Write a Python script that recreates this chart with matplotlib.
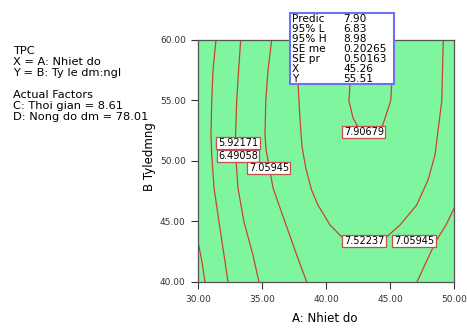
import matplotlib.pyplot as plt
from matplotlib.patches import Rectangle

# contour lines (A: Nhiet do, B: Ty le dm:ngl)
c0_x = [30.00, 30.29, 30.52]
c0_y = [43.22, 41.65, 40.00]

c1_x = [31.38, 31.15, 31.05, 30.99, 31.05, 31.23, 31.62, 32.01, 32.32]
c1_y = [60.00, 57.52, 54.96, 52.15, 50.50, 47.77, 44.96, 42.23, 40.00]

c2_x = [33.31, 33.10, 33.00, 32.91, 32.92, 33.10, 33.57, 34.27, 34.74]
c2_y = [60.00, 56.69, 54.96, 52.15, 50.50, 47.77, 44.96, 42.23, 40.00]

c3_x = [35.73, 35.45, 35.27, 35.21, 35.30, 35.84, 36.77, 37.69, 38.47]
c3_y = [60.00, 57.52, 54.96, 52.15, 50.91, 47.77, 44.96, 42.23, 40.00]

c3r_x = [50.00, 49.35, 48.57, 47.08]
c3r_y = [46.12, 44.71, 43.39, 40.00]

c4_x = [37.95, 37.79, 37.95, 38.10, 38.40, 38.85, 39.35, 40.29, 41.20, 42.95,
        44.72, 45.76, 47.06, 47.95, 48.49, 49.02, 49.14]
c4_y = [60.00, 56.45, 53.39, 51.20, 49.40, 47.60, 46.36, 44.71, 43.74, 43.22,
        43.74, 44.71, 46.36, 48.43, 50.50, 54.96, 60.00]

c5_x = [42.24, 41.85, 41.77, 42.09, 42.48, 43.10, 43.80, 44.33, 44.59,
        45.03, 45.11, 44.59, 43.42, 42.24]
c5_y = [58.18, 56.28, 54.96, 53.55, 52.81, 51.98, 52.31, 52.73, 53.55,
        54.96, 56.28, 58.18, 58.76, 58.18]

lbl_text = ['5.92171', '6.49058', '7.05945', '7.90679', '7.52237', '7.05945']
lbl_x = [33.10, 33.10, 35.52, 42.94, 42.94, 46.85]
lbl_y = [51.49, 50.41, 49.42, 52.40, 43.39, 43.39]

info_lines = ['TPC', 'X = A: Nhiet do', 'Y = B: Ty le dm:ngl', '',
              'Actual Factors', 'C: Thoi gian = 8.61', 'D: Nong do dm = 78.01']

box_names = ['Predic', '95% L', '95% H', 'SE me', 'SE pr', 'X', 'Y']
box_values = ['7.90', '6.83', '8.98', '0.20265', '0.50163', '45.26', '55.51']

W, H = 467, 331
fig = plt.figure(figsize=(4.67, 3.31), dpi=100)
ax = fig.add_axes([198.3 / W, 1 - 282 / H, 256 / W, 242 / H])
ax.set_facecolor('#80f5a0')

line_col = '#c8452c'
for xs, ys in [(c0_x, c0_y), (c1_x, c1_y), (c2_x, c2_y), (c3_x, c3_y),
               (c3r_x, c3r_y), (c4_x, c4_y), (c5_x, c5_y)]:
    ax.plot(xs, ys, color=line_col, lw=0.9)

for t, x, y in zip(lbl_text, lbl_x, lbl_y):
    ax.text(x, y, t, fontsize=7, ha='center', va='center', zorder=5,
            bbox=dict(boxstyle='square,pad=0.15', fc='white', ec='#c0504d', lw=0.9))

ax.set_xlim(30, 50)
ax.set_ylim(40, 60)
ax.set_xticks([30, 35, 40, 45, 50])
ax.set_yticks([40, 45, 50, 55, 60])
ax.set_xticklabels(['30.00', '35.00', '40.00', '45.00', '50.00'])
ax.set_yticklabels(['40.00', '45.00', '50.00', '55.00', '60.00'])
ax.tick_params(direction='out', length=5, width=0.8, labelsize=6.5,
               colors='#333333', pad=4)
for s in ax.spines.values():
    s.set_color('#555555')
    s.set_linewidth(0.9)

fig.text(150 / W, 1 - 157 / H, 'B Tyledmng', rotation=90, fontsize=8.5,
         ha='center', va='center')
fig.text(325 / W, 1 - 318 / H, 'A: Nhiet do', fontsize=8.5,
         ha='center', va='center')

for i, s in enumerate(info_lines):
    if s:
        fig.text(13 / W, 1 - (50.7 + 11 * i) / H, s, fontsize=8.2,
                 ha='left', va='center')

# prediction box
fig.patches.append(Rectangle((290 / W, 1 - 84 / H), 104 / W, 71.3 / H,
                             transform=fig.transFigure, fc='white',
                             ec='#7070f0', lw=1.5, zorder=10))
for i, (n, v) in enumerate(zip(box_names, box_values)):
    yy = 1 - (19 + 10.05 * i) / H
    fig.text(292 / W, yy, n, fontsize=7.6, ha='left', va='center', zorder=11)
    fig.text(343 / W, yy, v, fontsize=7.6, ha='left', va='center', zorder=11)

fig.savefig('out.png', dpi=100)
